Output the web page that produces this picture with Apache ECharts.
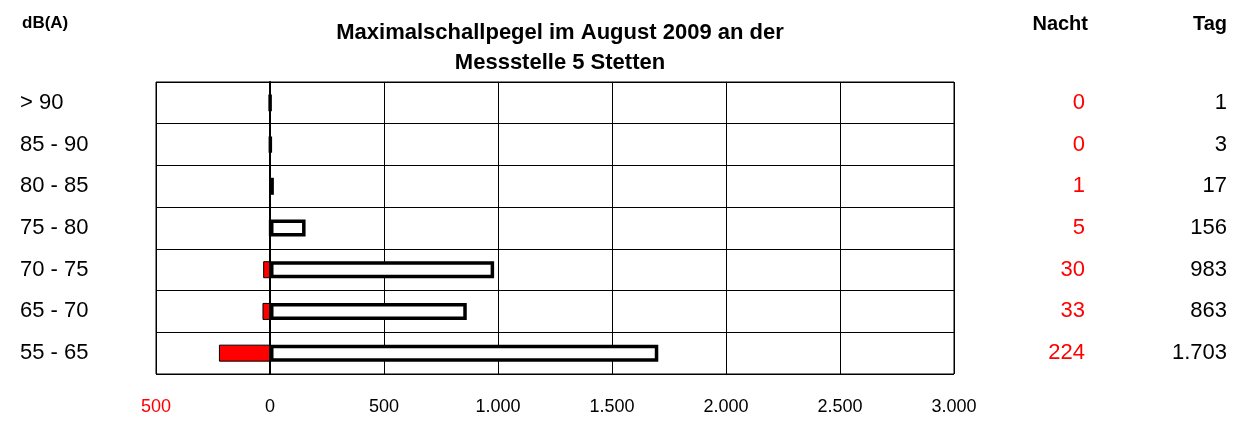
<!DOCTYPE html>
<html>
<head>
<meta charset="utf-8">
<script src="https://cdn.jsdelivr.net/npm/echarts@6/dist/echarts.min.js"></script>
<style>
  html, body { margin: 0; padding: 0; background: #fff; }
  #chart { width: 1239px; height: 421px; }
</style>
</head>
<body>
<div id="chart"></div>
<script>
// Klassen (von oben nach unten)
var categories = ['> 90', '85 - 90', '80 - 85', '75 - 80', '70 - 75', '65 - 70', '55 - 65'];
// Anzahl Nacht / Tag
var nightValues = [0, 0, 1, 5, 30, 33, 224];
var dayValues = [1, 3, 17, 156, 983, 863, 1703];
// x-Achse
var xMin = -500, xMax = 3000, xStep = 500;

var FONT = '"Liberation Sans", Arial, sans-serif';

function fmt(v) {
  // deutsches Tausendertrennzeichen
  var s = String(Math.abs(v));
  return s.replace(/\B(?=(\d{3})+(?!\d))/g, '.');
}

var chart = echarts.init(document.getElementById('chart'));

var option = {
  backgroundColor: '#fff',
  animation: false,
  textStyle: { fontFamily: FONT },
  title: {
    text: 'Maximalschallpegel im August 2009 an der\nMessstelle 5 Stetten',
    left: 555,
    top: 13,
    textAlign: 'center',
    textStyle: { fontFamily: FONT, fontSize: 22, fontWeight: 'bold', color: '#000', lineHeight: 30 }
  },
  grid: {
    left: 156, right: 285, top: 82, bottom: 47,
    show: true, borderColor: '#000', borderWidth: 1
  },
  xAxis: {
    type: 'value',
    min: xMin, max: xMax, interval: xStep,
    axisLine: { show: false },
    axisTick: { show: false },
    splitLine: { show: true, lineStyle: { color: '#000', width: 1 } },
    axisLabel: {
      margin: 24,
      fontSize: 18,
      fontFamily: FONT,
      color: function (v) { return v < 0 ? '#ff0000' : '#000'; },
      formatter: function (v) { return fmt(v); }
    }
  },
  yAxis: [
    {
      type: 'category',
      data: categories,
      inverse: true,
      axisLine: { show: true, lineStyle: { color: '#000', width: 2 } },
      axisTick: { show: false },
      splitLine: { show: true, lineStyle: { color: '#000', width: 1 } },
      axisLabel: { align: 'left', margin: 136, fontSize: 22, fontFamily: FONT, color: '#000' }
    },
    {
      type: 'category',
      data: nightValues.map(fmt),
      inverse: true,
      position: 'right',
      axisLine: { show: false },
      axisTick: { show: false },
      axisLabel: { align: 'right', margin: 131, fontSize: 22, fontFamily: FONT, color: '#ff0000' }
    },
    {
      type: 'category',
      data: dayValues.map(fmt),
      inverse: true,
      position: 'right',
      axisLine: { show: false },
      axisTick: { show: false },
      axisLabel: { align: 'right', margin: 273, fontSize: 22, fontFamily: FONT, color: '#000' }
    }
  ],
  graphic: [
    { type: 'text', left: 22, top: 15, style: { text: 'dB(A)', fontFamily: FONT, fontSize: 17, fontWeight: 'bold', fill: '#000' } },
    { type: 'text', right: 1239 - 1088, top: 14, style: { text: 'Nacht', fontFamily: FONT, fontSize: 20, fontWeight: 'bold', fill: '#000', align: 'right' } },
    { type: 'text', right: 12, top: 14, style: { text: 'Tag', fontFamily: FONT, fontSize: 20, fontWeight: 'bold', fill: '#000', align: 'right' } }
  ],
  series: [
    {
      name: 'Nacht',
      type: 'bar',
      stack: 'a',
      barWidth: 17,
      data: nightValues.map(function (v) { return -v; }),
      itemStyle: { color: '#ff0000', borderColor: '#000', borderWidth: 1 }
    },
    {
      name: 'Tag',
      type: 'bar',
      stack: 'a',
      barWidth: 17,
      data: dayValues,
      itemStyle: { color: '#fff', borderColor: '#000', borderWidth: 3.5 }
    }
  ]
};

chart.setOption(option);
</script>
</body>
</html>
